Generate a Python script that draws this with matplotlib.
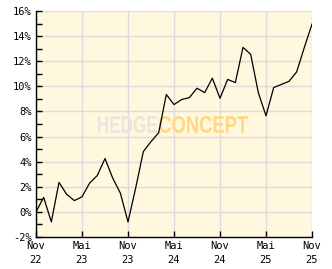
import matplotlib
matplotlib.use("Agg")
import matplotlib.pyplot as plt
from matplotlib.ticker import MultipleLocator, FuncFormatter
from matplotlib.textpath import TextPath
from matplotlib.patches import PathPatch
from matplotlib.font_manager import FontProperties
from matplotlib.transforms import Affine2D, IdentityTransform

# monthly performance in %, Nov 22 .. Nov 25
values = [0.0, 1.15, -0.8, 2.35, 1.4, 0.9, 1.2, 2.3, 2.9, 4.25, 2.7, 1.5,
          -0.8, 1.9, 4.8, 5.6, 6.3, 9.35, 8.55, 8.95, 9.1, 9.85, 9.5, 10.65,
          9.05, 10.55, 10.3, 13.1, 12.55, 9.5, 7.65, 9.9, 10.15, 10.4, 11.15,
          13.1, 14.95]
months = list(range(len(values)))
tick_months = [0, 6, 12, 18, 24, 30, 36]
tick_labels = ["Nov\n22", "Mai\n23", "Nov\n23", "Mai\n24", "Nov\n24", "Mai\n25", "Nov\n25"]

W, H = 332, 269
fig = plt.figure(figsize=(W / 100, H / 100), dpi=100)
ax = fig.add_axes([36 / W, 32 / H, 276 / W, 226 / H])
ax.set_facecolor("#fff7de")

ax.plot(months, values, color="black", linewidth=0.9, zorder=3)

ax.set_xlim(0, 36)
ax.set_ylim(-2, 16)
ax.set_xticks(tick_months)
ax.set_xticklabels(tick_labels)
ax.yaxis.set_major_locator(MultipleLocator(2))
ax.yaxis.set_minor_locator(MultipleLocator(1))
ax.yaxis.set_major_formatter(FuncFormatter(lambda v, p: f"{v:.0f}%"))

ax.grid(True, color="#dcdcdc", linewidth=1, zorder=1)
ax.set_axisbelow(True)
for s in ["top", "right"]:
    ax.spines[s].set_visible(False)
for s in ["left", "bottom"]:
    ax.spines[s].set_color("black")
    ax.spines[s].set_linewidth(1)

ax.tick_params(which="both", direction="in", length=4, width=1, color="black",
               labelsize=7.5, pad=3)
for lab in ax.get_xticklabels() + ax.get_yticklabels():
    lab.set_family("DejaVu Sans Mono")
for lab in ax.get_xticklabels():
    lab.set_linespacing(1.5)


# watermark: condensed bold text squeezed into a pixel box
def watermark(text, x0, x1, y0, y1, color):
    tp = TextPath((0, 0), text, size=20,
                  prop=FontProperties(family="Liberation Sans", weight="bold"))
    ext = tp.get_extents()
    tr = (Affine2D().translate(-ext.x0, -ext.y0)
          .scale((x1 - x0) / ext.width, (y1 - y0) / ext.height)
          .translate(x0, y0))
    patch = PathPatch(tr.transform_path(tp), facecolor=color, edgecolor="none",
                      transform=IdentityTransform(), zorder=2)
    ax.add_artist(patch)


watermark("HEDGE", 98, 157, H - 133, H - 116, "#e8e6de")
watermark("CONCEPT", 159, 248, H - 133, H - 116, "#ffd882")

fig.savefig("out.png", dpi=100)
